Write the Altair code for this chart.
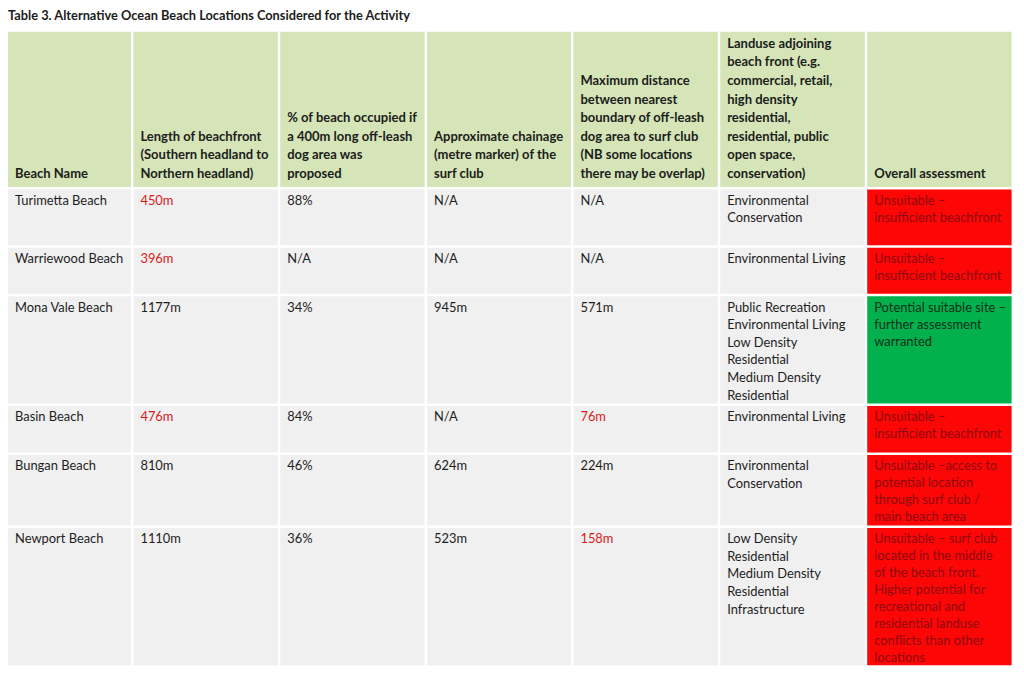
import altair as alt
import pandas as pd

# ---------------- data ----------------
title_text = "Table 3. Alternative Ocean Beach Locations Considered for the Activity"

headers = [
    ["Beach Name"],
    ["Length of beachfront", "(Southern headland to", "Northern headland)"],
    ["% of beach occupied if", "a 400m long off-leash", "dog area was", "proposed"],
    ["Approximate chainage", "(metre marker) of the", "surf club"],
    ["Maximum distance", "between nearest", "boundary of off-leash", "dog area to surf club",
     "(NB some locations", "there may be overlap)"],
    ["Landuse adjoining", "beach front (e.g.", "commercial, retail,", "high density",
     "residential,", "residential, public", "open space,", "conservation)"],
    ["Overall assessment"],
]

beach_names = ["Turimetta Beach", "Warriewood Beach", "Mona Vale Beach",
               "Basin Beach", "Bungan Beach", "Newport Beach"]
lengths = ["450m", "396m", "1177m", "476m", "810m", "1110m"]
length_flagged = [True, True, False, True, False, False]
pct_occupied = ["88%", "N/A", "34%", "84%", "46%", "36%"]
chainage = ["N/A", "N/A", "945m", "N/A", "624m", "523m"]
max_distance = ["N/A", "N/A", "571m", "76m", "224m", "158m"]
distance_flagged = [False, False, False, True, False, True]
landuse = [
    ["Environmental", "Conservation"],
    ["Environmental Living"],
    ["Public Recreation", "Environmental Living", "Low Density", "Residential",
     "Medium Density", "Residential"],
    ["Environmental Living"],
    ["Environmental", "Conservation"],
    ["Low Density", "Residential", "Medium Density", "Residential", "Infrastructure"],
]
assessment = [
    ["Unsuitable –", "insufficient beachfront"],
    ["Unsuitable –", "insufficient beachfront"],
    ["Potential suitable site –", "further assessment", "warranted"],
    ["Unsuitable –", "insufficient beachfront"],
    ["Unsuitable –access to", "potential location", "through surf club /", "main beach area"],
    ["Unsuitable – surf club", "located in the middle", "of the beach front.",
     "Higher potential for", "recreational and", "residential landuse",
     "conflicts than other", "locations"],
]
suitable = [False, False, True, False, False, False]

# ---------------- layout ----------------
W, H = 1008, 659
col_w = [123, 144.4, 144.4, 144.0, 144.4, 144.6, 144.4]
col_gap = 2.4
row_h = [155.3, 55.7, 46.0, 107.3, 46.6, 70.3, 137.4]
row_gap = 2.5
top0 = 23.7
pad_x = 7
head_lh = 18.6
body_lh = 17.6
assess_lh = 17.0

col_x = []
x = 0.0
for w in col_w:
    col_x.append(x)
    x += w + col_gap
row_y = []
y = top0
for h in row_h:
    row_y.append(y)
    y += h + row_gap

cells = []
texts_head = []
texts_body = []

# header
for c in range(7):
    cells.append(dict(x0=col_x[c], x1=col_x[c] + col_w[c], y0=row_y[0],
                      y1=row_y[0] + row_h[0], kind="cell_header"))
    lines = headers[c]
    n = len(lines)
    bottom = row_y[0] + row_h[0]
    for i, ln in enumerate(lines):
        texts_head.append(dict(x=col_x[c] + pad_x,
                               y=bottom - 13 - (n - 1 - i) * head_lh,
                               t=ln, kind="txt_header"))

for r in range(6):
    ri = r + 1
    top = row_y[ri]
    bot = top + row_h[ri]
    row_cols = [
        ([beach_names[r]], "txt_body"),
        ([lengths[r]], "txt_flag" if length_flagged[r] else "txt_body"),
        ([pct_occupied[r]], "txt_body"),
        ([chainage[r]], "txt_body"),
        ([max_distance[r]], "txt_flag" if distance_flagged[r] else "txt_body"),
        (landuse[r], "txt_body"),
        (assessment[r], "txt_good" if suitable[r] else "txt_bad"),
    ]
    for c, (lines, tk) in enumerate(row_cols):
        if c == 6:
            ck = "cell_good" if suitable[r] else "cell_bad"
            lh = assess_lh
        else:
            ck = "cell_body"
            lh = body_lh
        cells.append(dict(x0=col_x[c], x1=col_x[c] + col_w[c], y0=top, y1=bot, kind=ck))
        for i, ln in enumerate(lines):
            texts_body.append(dict(x=col_x[c] + pad_x, y=top + 11.3 + i * lh, t=ln, kind=tk))

title_df = pd.DataFrame([dict(x=0, y=7.5, t=title_text, kind="txt_header")])
cells_df = pd.DataFrame(cells)
head_df = pd.DataFrame(texts_head)
body_df = pd.DataFrame(texts_body)

xs = alt.Scale(domain=[0, W], nice=False, zero=False)
ys = alt.Scale(domain=[0, H], nice=False, zero=False, reverse=True)
color_scale = alt.Scale(
    domain=["cell_header", "cell_body", "cell_bad", "cell_good",
            "txt_header", "txt_body", "txt_flag", "txt_bad", "txt_good"],
    range=["#d5e5b7", "#f0f0f0", "#fd0606", "#02b04c",
           "#1c1c1c", "#1e1e1e", "#d81c1c", "#8c0a10", "#10301a"],
)

rects = alt.Chart(cells_df).mark_rect().encode(
    x=alt.X("x0:Q", scale=xs, axis=None),
    x2="x1:Q",
    y=alt.Y("y0:Q", scale=ys, axis=None),
    y2="y1:Q",
    fill=alt.Fill("kind:N", scale=color_scale, legend=None),
)

FONT = "Lato"

title = alt.Chart(title_df).mark_text(
    align="left", baseline="middle", font=FONT, fontSize=12.8, fontWeight="bold"
).encode(
    x=alt.X("x:Q", scale=xs, axis=None),
    y=alt.Y("y:Q", scale=ys, axis=None),
    text="t:N",
    fill=alt.Fill("kind:N", scale=color_scale, legend=None),
)

head = alt.Chart(head_df).mark_text(
    align="left", baseline="middle", font=FONT, fontSize=13, fontWeight="bold"
).encode(
    x=alt.X("x:Q", scale=xs, axis=None),
    y=alt.Y("y:Q", scale=ys, axis=None),
    text="t:N",
    fill=alt.Fill("kind:N", scale=color_scale, legend=None),
)

body = alt.Chart(body_df).mark_text(
    align="left", baseline="middle", font=FONT, fontSize=12.9
).encode(
    x=alt.X("x:Q", scale=xs, axis=None),
    y=alt.Y("y:Q", scale=ys, axis=None),
    text="t:N",
    fill=alt.Fill("kind:N", scale=color_scale, legend=None),
)

chart = alt.layer(rects, title, head, body).properties(
    width=W, height=H, padding=0,
    view=alt.ViewBackground(strokeWidth=0, strokeOpacity=0),
).configure_view(strokeWidth=0, strokeOpacity=0).configure(background="white")

chart.save("out.html", embed_options={"renderer": "svg", "actions": False})
